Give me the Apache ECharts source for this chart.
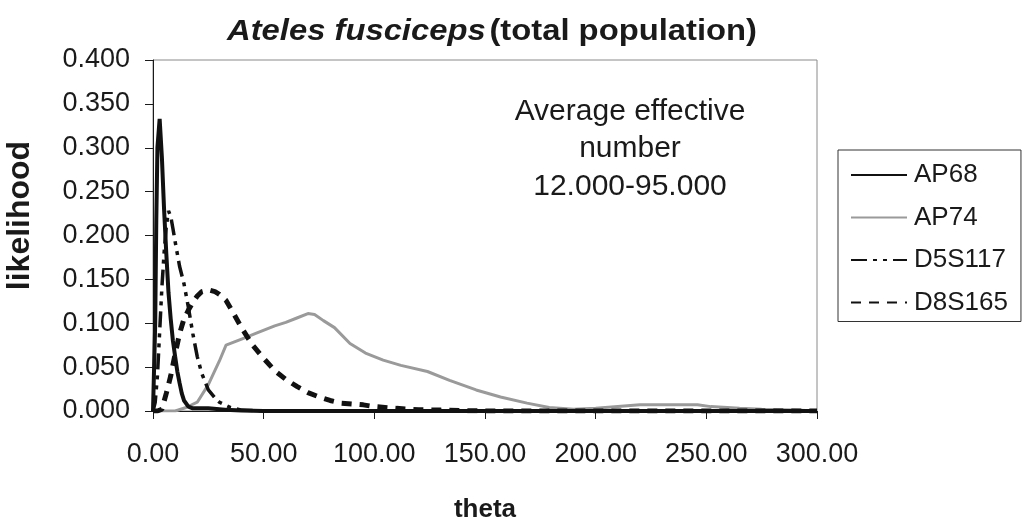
<!DOCTYPE html>
<html>
<head>
<meta charset="utf-8">
<script src="https://cdn.jsdelivr.net/npm/echarts@6/dist/echarts.min.js"></script>
<style>
  html, body { margin: 0; padding: 0; background: #ffffff; }
  #chart { width: 1026px; height: 518px; }
</style>
</head>
<body>
<div id="chart"></div>
<script>
// Likelihood curves of theta for four loci
const thetaAP68 = [0, 1, 1.5, 2, 3, 4, 5, 6, 7, 8, 9, 10, 11, 12, 13, 14, 16, 18, 20, 25, 30, 35, 40, 50, 100, 150, 200, 250, 300];
const likelihoodAP68 = [0, 0.1, 0.22, 0.3, 0.333, 0.29, 0.23, 0.18, 0.135, 0.105, 0.08, 0.062, 0.045, 0.032, 0.02, 0.012, 0.005, 0.003, 0.003, 0.003, 0.002, 0.001, 0.0005, 0, 0, 0, 0, 0, 0];

const thetaAP74 = [0, 5, 10, 15, 20, 25, 30, 33, 40, 47, 55, 60, 65, 70, 73, 77, 82, 89, 96, 104, 112, 124, 134, 146, 157, 169, 179, 190, 200, 210, 220, 235, 246, 252, 265, 275, 290, 300];
const likelihoodAP74 = [0, 0, 0, 0.004, 0.01, 0.03, 0.057, 0.075, 0.082, 0.089, 0.097, 0.101, 0.106, 0.111, 0.11, 0.103, 0.095, 0.077, 0.066, 0.058, 0.052, 0.045, 0.035, 0.024, 0.016, 0.009, 0.004, 0.002, 0.003, 0.005, 0.007, 0.007, 0.007, 0.005, 0.003, 0.002, 0.001, 0];

const thetaD5S117 = [0, 1, 2, 3, 4, 5, 6, 7, 8, 9, 10, 12, 14, 16, 18, 20, 22, 25, 28, 30, 35, 40, 50, 100, 150, 200, 250, 300];
const likelihoodD5S117 = [0, 0.01, 0.04, 0.09, 0.14, 0.18, 0.21, 0.228, 0.222, 0.208, 0.193, 0.165, 0.145, 0.118, 0.088, 0.062, 0.043, 0.024, 0.015, 0.01, 0.004, 0.001, 0, 0, 0, 0, 0, 0];

const thetaD8S165 = [0, 2, 4, 6, 8, 10, 12, 14, 16, 18, 20, 22, 25, 28, 30, 33, 36, 40, 45, 50, 55, 60, 65, 70, 75, 80, 85, 90, 95, 100, 110, 120, 130, 150, 200, 250, 300];
const likelihoodD8S165 = [0, 0, 0.002, 0.02, 0.04, 0.065, 0.088, 0.105, 0.115, 0.124, 0.131, 0.136, 0.138, 0.136, 0.133, 0.126, 0.113, 0.095, 0.075, 0.06, 0.046, 0.036, 0.028, 0.021, 0.016, 0.012, 0.009, 0.008, 0.007, 0.005, 0.003, 0.0015, 0.001, 0, 0, 0, 0];

const seriesNames = ['AP68', 'AP74', 'D5S117', 'D8S165'];
const xTickStep = 50;   // tick labels 0.00 ... 300.00
const yTickStep = 0.05; // tick labels 0.000 ... 0.400

const FONT = "'Liberation Sans', Arial, Helvetica, sans-serif";
const INK = '#1a1a1a';
const CLEAR = 'rgba(0,0,0,0)';

function pairs(xs, ys) {
  return xs.map((x, i) => [x, ys[i]]);
}

const chart = echarts.init(document.getElementById('chart'), null, { renderer: 'canvas' });

chart.setOption({
  backgroundColor: '#ffffff',
  animation: false,
  textStyle: { fontFamily: FONT, color: INK },
  grid: {
    left: 153, right: 209, top: 60, bottom: 107,
    containLabel: false, outerBoundsMode: 'none',
    show: true, borderColor: '#8a8a8a', borderWidth: 1, backgroundColor: 'transparent'
  },
  xAxis: {
    type: 'value', min: 0, max: 300, interval: xTickStep,
    name: 'theta', nameLocation: 'middle', nameGap: 86,
    nameTextStyle: { fontFamily: FONT, fontSize: 26, fontWeight: 'bold', color: INK },
    axisLine: { show: true, lineStyle: { color: INK, width: 1 } },
    axisTick: { show: true, length: 8, lineStyle: { color: INK, width: 1 } },
    axisLabel: { margin: 30, fontSize: 27, color: INK, fontFamily: FONT, formatter: v => v.toFixed(2) },
    splitLine: { show: false }
  },
  yAxis: {
    type: 'value', min: 0, max: 0.4, interval: yTickStep,
    name: 'likelihood', nameLocation: 'middle', nameGap: 117,
    nameTextStyle: { fontFamily: FONT, fontSize: 32, fontWeight: 'bold', color: INK, padding: [0, 0, 0, 40] },
    axisLine: { show: true, lineStyle: { color: INK, width: 1 } },
    axisTick: { show: true, length: 8, lineStyle: { color: INK, width: 1 } },
    axisLabel: { margin: 23, fontSize: 27, color: INK, fontFamily: FONT, formatter: v => v.toFixed(3) },
    splitLine: { show: false }
  },
  legend: {
    orient: 'vertical', left: 838, top: 150,
    data: seriesNames,
    itemWidth: 56, itemHeight: 14, itemGap: 16.5,
    padding: [12, 13, 6, 12],
    borderColor: '#333333', borderWidth: 1,
    itemStyle: { color: CLEAR, borderColor: CLEAR, borderWidth: 0 },
    textStyle: { fontFamily: FONT, fontSize: 26, color: INK, padding: [0, 0, 0, 2] }
  },
  graphic: [
    {
      type: 'text', x: 492, y: 32, scaleX: 1.13,
      style: {
        text: '{i|Ateles fusciceps} {b|(total population)}',
        align: 'center', verticalAlign: 'middle',
        rich: {
          i: { fontFamily: FONT, fontSize: 29, fontWeight: 'bold', fontStyle: 'italic', fill: INK },
          b: { fontFamily: FONT, fontSize: 29, fontWeight: 'bold', fill: INK }
        }
      }
    },
    {
      type: 'text', x: 630, y: 92.5,
      style: {
        text: 'Average effective\nnumber\n12.000-95.000',
        align: 'center', verticalAlign: 'top',
        fontFamily: FONT, fontSize: 30, lineHeight: 37.5, fill: INK
      }
    }
  ],
  series: [
    {
      name: 'AP68', type: 'line', data: pairs(thetaAP68, likelihoodAP68),
      symbol: 'none', z: 5,
      lineStyle: { color: '#111111', width: 4, type: 'solid' },
      itemStyle: { color: '#111111' }
    },
    {
      name: 'AP74', type: 'line', data: pairs(thetaAP74, likelihoodAP74),
      symbol: 'none', z: 2,
      lineStyle: { color: '#9a9a9a', width: 3, type: 'solid' },
      itemStyle: { color: '#9a9a9a' }
    },
    {
      name: 'D5S117', type: 'line', data: pairs(thetaD5S117, likelihoodD5S117),
      symbol: 'none', z: 4,
      lineStyle: { color: '#111111', width: 3.5, type: [16, 6, 4, 6, 4, 6] },
      itemStyle: { color: '#111111' }
    },
    {
      name: 'D8S165', type: 'line', data: pairs(thetaD8S165, likelihoodD8S165),
      symbol: 'none', z: 3,
      lineStyle: { color: '#111111', width: 5, type: [10, 8] },
      itemStyle: { color: '#111111' }
    }
  ]
});
</script>
</body>
</html>
